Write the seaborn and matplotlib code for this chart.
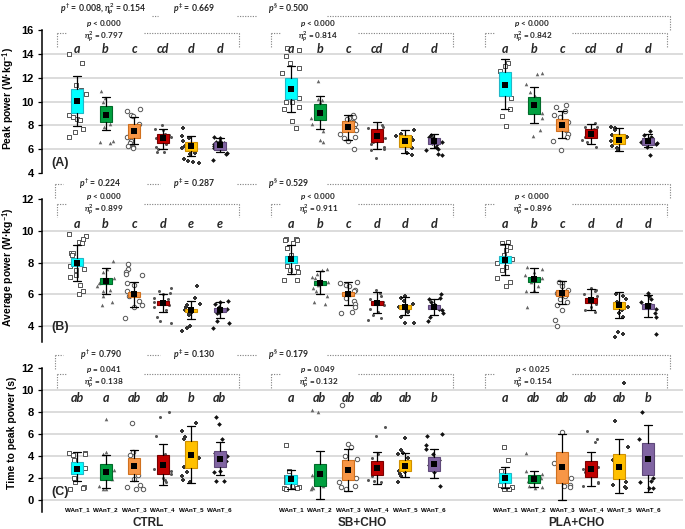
import numpy as np
import pandas as pd
import matplotlib
matplotlib.use("Agg")
import matplotlib.pyplot as plt
import seaborn as sns

# ---------------- data ----------------
groups = ["CTRL", "SB+CHO", "PLA+CHO"]
tests = ["WAnT_1", "WAnT_2", "WAnT_3", "WAnT_4", "WAnT_5", "WAnT_6"]

# Panel A: peak power (order: CTRL T1..T6, SB+CHO T1..T6, PLA+CHO T1..T6)
A_mean = [10.05, 8.9, 7.55, 6.92, 6.25, 6.33, 11.06, 9.05, 7.86, 7.1, 6.7, 6.67, 11.42, 9.67, 8.0, 7.28, 6.78, 6.67]
A_q1 = [9.06, 8.28, 6.97, 6.5, 5.86, 5.95, 10.17, 8.44, 7.4, 6.6, 6.2, 6.4, 10.44, 8.97, 7.5, 6.9, 6.4, 6.36]
A_q3 = [11.06, 9.6, 8.08, 7.25, 6.6, 6.64, 12.0, 9.8, 8.33, 7.67, 7.17, 6.97, 12.47, 10.36, 8.56, 7.67, 7.25, 6.97]
A_wlo = [7.95, 7.58, 6.47, 6.0, 5.45, 5.78, 9.14, 7.7, 6.8, 6.0, 5.7, 6.1, 9.4, 8.17, 6.9, 6.4, 5.86, 6.14]
A_whi = [12.1, 10.36, 8.72, 7.72, 7.1, 6.97, 13.0, 10.5, 8.86, 8.28, 7.6, 7.25, 13.6, 11.2, 9.17, 8.1, 7.8, 7.25]
A_points = [
    [14.0, 13.2, 11.4, 11.0, 10.6, 10.4, 9.5, 8.9, 8.7, 8.5, 8.45, 7.7, 7.4, 7.05],
    [10.9, 10.3, 10.0, 9.5, 9.3, 8.5, 8.1, 7.9, 6.7, 6.6, 6.5],
    [9.4, 9.2, 8.9, 8.8, 8.1, 7.3, 7.0, 6.7, 6.7, 6.5, 6.3, 6.2, 6.1],
    [8.0, 7.7, 7.6, 7.3, 7.2, 7.0, 6.9, 6.6, 6.4, 6.2, 6.0, 5.8, 5.75],
    [7.8, 7.1, 6.9, 6.7, 6.3, 6.1, 5.9, 5.7, 5.6, 5.2, 5.0, 4.9, 4.85],
    [7.0, 6.9, 6.7, 6.6, 6.5, 6.4, 6.3, 6.2, 6.2, 6.1, 5.7, 5.6, 5.1],
    [14.5, 14.3, 13.8, 13.2, 12.8, 12.4, 10.7, 10.3, 10.0, 10.0, 9.5, 9.4, 8.4, 7.8],
    [11.7, 10.2, 10.1, 10.0, 9.6, 8.6, 8.1, 7.5, 6.8, 6.6],
    [8.9, 8.7, 8.6, 8.5, 8.3, 8.1, 7.9, 7.8, 7.6, 7.3, 7.0, 6.9, 6.7, 6.0],
    [8.0, 7.9, 7.8, 7.4, 7.2, 6.9, 6.6, 6.4, 6.2, 6.0, 5.9, 5.3],
    [7.6, 7.3, 7.1, 7.0, 6.8, 6.5, 6.3, 6.1, 5.7, 5.5],
    [7.2, 7.0, 6.9, 6.8, 6.7, 6.6, 6.5, 6.4, 6.2, 6.0, 5.9, 5.6, 5.5],
    [13.2, 13.0, 12.6, 12.0, 11.6, 11.4, 11.0, 10.3, 9.4, 8.8, 7.95],
    [12.4, 12.3, 11.5, 10.8, 10.5, 9.3, 9.0, 8.6, 7.6, 7.1],
    [9.7, 9.5, 9.2, 8.9, 8.7, 8.3, 8.1, 7.8, 7.6, 7.3, 7.0, 6.7, 5.9],
    [8.2, 7.9, 7.9, 7.7, 7.4, 7.3, 7.0, 6.8, 6.6, 6.2],
    [7.9, 7.8, 7.6, 7.2, 7.0, 6.7, 6.5, 6.3, 6.1, 5.9],
    [7.5, 7.2, 7.0, 6.9, 6.8, 6.6, 6.5, 6.4, 6.2, 5.5],
]
A_letters = ["a", "b", "c", "cd", "d", "d"] * 3

# Panel B: average power
B_mean = [8.0, 6.85, 6.0, 5.47, 5.0, 5.03, 8.2, 6.73, 6.0, 5.47, 5.2, 5.2, 8.18, 6.94, 6.1, 5.63, 5.32, 5.28]
B_q1 = [7.8, 6.68, 5.82, 5.32, 4.86, 4.9, 8.0, 6.58, 5.87, 5.32, 5.07, 5.07, 7.95, 6.75, 5.9, 5.47, 5.1, 5.1]
B_q3 = [8.26, 7.0, 6.16, 5.57, 5.1, 5.15, 8.4, 6.87, 6.16, 5.6, 5.36, 5.36, 8.4, 7.1, 6.26, 5.78, 5.53, 5.42]
B_wlo = [6.87, 6.05, 5.21, 4.9, 4.44, 4.52, 7.3, 6.0, 5.36, 4.84, 4.7, 4.73, 7.2, 6.16, 5.42, 5.0, 4.52, 4.6]
B_whi = [9.1, 7.67, 6.75, 6.03, 5.57, 5.53, 9.1, 7.46, 6.75, 6.12, 5.82, 5.7, 9.14, 7.67, 6.83, 6.36, 6.12, 5.95]
B_points = [
    [9.8, 9.7, 9.5, 9.3, 9.2, 8.6, 8.6, 8.5, 8.1, 7.8, 7.6, 7.5, 7.2, 7.1, 6.6, 6.2, 6.0],
    [8.1, 7.6, 7.4, 7.0, 6.7, 6.5, 6.3, 6.2, 5.9, 5.5, 5.3],
    [7.9, 7.6, 7.4, 7.3, 7.2, 6.7, 6.6, 6.2, 5.9, 5.6, 5.3, 5.2, 4.5],
    [6.4, 6.2, 6.1, 6.0, 5.8, 5.7, 5.5, 5.3, 5.2, 5.0, 4.6, 4.3, 4.2],
    [6.5, 5.8, 5.4, 5.3, 5.2, 5.0, 4.9, 4.8, 4.7, 4.0, 3.9, 3.7],
    [5.6, 5.5, 5.4, 5.2, 5.1, 5.0, 4.9, 4.8, 4.3, 4.2, 3.9],
    [9.5, 9.5, 9.4, 9.4, 9.2, 8.9, 8.5, 8.2, 7.8, 7.7, 7.5, 7.4, 6.9, 6.9],
    [7.6, 7.5, 7.3, 7.1, 7.0, 6.8, 6.6, 6.4, 6.2, 5.9, 5.5, 5.4],
    [6.8, 6.7, 6.6, 6.5, 6.3, 6.2, 6.0, 5.8, 5.6, 5.4, 5.2, 4.9, 4.8],
    [6.3, 6.1, 5.9, 5.7, 5.5, 5.3, 5.1, 4.9, 4.7, 4.5, 4.4],
    [5.9, 5.8, 5.6, 5.4, 5.2, 5.0, 4.9, 4.6, 4.2, 4.2],
    [6.0, 5.8, 5.7, 5.5, 5.3, 5.1, 5.0, 4.8, 4.6, 4.3],
    [9.3, 9.2, 9.0, 8.8, 8.5, 8.2, 8.0, 7.7, 7.5, 7.0, 6.8, 6.5],
    [7.7, 7.6, 7.4, 7.2, 7.0, 6.8, 6.5, 6.3, 6.2, 5.2],
    [6.8, 6.7, 6.5, 6.3, 6.1, 5.9, 5.7, 5.5, 5.3, 5.0, 4.4, 4.0],
    [6.4, 6.3, 6.2, 6.0, 5.9, 5.6, 5.4, 5.2, 5.0, 4.9],
    [6.0, 5.9, 5.7, 5.5, 5.2, 5.0, 4.8, 4.6, 3.6, 3.5, 3.3],
    [6.1, 5.9, 5.7, 5.5, 5.3, 5.1, 4.8, 4.6, 3.5],
]
B_letters = ["a", "b", "c", "d", "e", "e"] + ["a", "b", "c", "d", "d", "d"] * 2

# Panel C: time to peak power
C_mean = [2.85, 2.55, 3.12, 3.2, 4.1, 3.75, 1.88, 2.33, 2.73, 2.9, 3.09, 3.3, 2.0, 1.88, 2.97, 2.79, 3.03, 3.7]
C_q1 = [2.36, 1.85, 2.36, 2.36, 2.9, 2.97, 1.45, 1.24, 1.82, 2.24, 2.6, 2.67, 1.58, 1.52, 1.58, 2.09, 1.94, 2.3]
C_q3 = [3.42, 3.27, 3.82, 4.12, 5.33, 4.48, 2.3, 3.3, 3.64, 3.58, 3.64, 3.94, 2.48, 2.24, 4.36, 3.52, 4.2, 5.2]
C_wlo = [1.7, 1.09, 1.7, 1.39, 1.55, 2.3, 1.03, 0.12, 0.79, 1.45, 2.06, 2.0, 1.09, 1.15, 0.0, 1.27, 0.67, 0.73]
C_whi = [4.36, 4.06, 4.58, 5.12, 6.73, 5.3, 2.76, 4.48, 4.64, 4.36, 4.24, 4.67, 2.97, 2.67, 6.0, 4.36, 5.5, 6.82]
C_points = [
    [4.3, 4.3, 4.2, 4.1, 3.6, 3.3, 2.9, 2.6, 2.0, 1.6, 1.2, 1.1, 1.0],
    [7.4, 4.4, 4.2, 3.2, 2.7, 2.4, 1.9, 1.3, 1.0, 1.0],
    [7.0, 4.4, 4.1, 3.4, 2.3, 1.9, 1.4, 1.2, 1.0, 1.0],
    [8.0, 7.5, 5.8, 4.2, 3.8, 2.8, 2.6, 2.4, 2.0, 1.8, 1.6],
    [7.0, 6.3, 5.7, 5.5, 4.2, 4.0, 3.8, 3.5, 3.0, 2.5, 2.2, 1.8, 1.6],
    [7.5, 6.9, 5.5, 4.3, 4.0, 3.6, 3.5, 3.2, 2.6, 2.5, 1.7, 1.7],
    [5.0, 2.6, 2.1, 1.9, 1.6, 1.3, 1.2, 1.1, 1.1, 1.0],
    [8.2, 8.0, 2.3, 2.0, 1.7, 1.5, 1.3, 1.2, 1.1, 1.0],
    [8.6, 5.1, 4.8, 4.0, 3.7, 3.0, 2.7, 2.0, 1.6, 1.3, 1.2, 1.0],
    [6.6, 5.8, 4.2, 3.8, 3.4, 2.9, 2.2, 1.8, 1.7, 1.6],
    [5.6, 4.5, 4.3, 4.2, 3.8, 3.3, 2.6, 2.5, 2.4, 2.2, 1.6],
    [6.0, 5.8, 5.0, 4.6, 4.2, 3.6, 3.2, 2.8, 2.5, 1.3],
    [4.8, 3.6, 2.6, 2.6, 2.0, 1.4, 1.2, 1.0, 1.0, 1.0],
    [4.3, 2.6, 2.4, 2.0, 1.7, 1.3, 1.2, 1.1],
    [6.2, 3.6, 3.4, 3.0, 2.4, 2.0, 1.4, 1.3, 1.2],
    [6.3, 5.5, 5.3, 3.4, 3.0, 2.8, 2.5, 1.6, 1.5, 1.3],
    [10.6, 7.2, 4.8, 4.0, 3.6, 2.8, 2.0, 1.6, 1.4, 1.2, 1.1],
    [8.0, 5.5, 4.6, 3.6, 2.8, 2.0, 1.7, 1.6, 1.1, 1.1],
]
C_letters = ["ab", "a", "ab", "ab", "b", "ab"] + ["a", "ab", "ab", "ab", "ab", "b"] * 2

# statistics text
A_outer = [r"$p^{†}$ = 0.008, $\eta^{2}_{p}$ = 0.154", r"$p^{‡}$ = 0.669", r"$p^{§}$ = 0.500"]
A_inner_p = [r"$p$ < 0.000", r"$p$ < 0.000", r"$p$ < 0.000"]
A_inner_eta = ["0.797", "0.814", "0.842"]
B_outer = [r"$p^{†}$ = 0.224", r"$p^{‡}$ = 0.287", r"$p^{§}$ = 0.529"]
B_inner_p = [r"$p$ < 0.000", r"$p$ < 0.000", r"$p$ < 0.000"]
B_inner_eta = ["0.899", "0.911", "0.896"]
C_outer = [r"$p^{†}$ = 0.790", r"$p^{‡}$ = 0.130", r"$p^{§}$ = 0.179"]
C_inner_p = [r"$p$ = 0.041", r"$p$ = 0.049", r"$p$ < 0.025"]
C_inner_eta = ["0.138", "0.132", "0.154"]

# ---------------- style ----------------
sns.set_theme(style="white")
plt.rcParams["font.family"] = ["Liberation Sans", "DejaVu Sans"]
plt.rcParams["mathtext.fontset"] = "custom"
plt.rcParams["mathtext.it"] = "Lato:bold:italic"
plt.rcParams["mathtext.rm"] = "Lato:bold"
plt.rcParams["mathtext.bf"] = "Lato:bold"
np.random.seed(7)

BOX_FACE = ["#00FFFF", "#00A040", "#F79646", "#C00000", "#FFC000", "#8064A2"]
BOX_EDGE = ["#20B8C8", "#006B2A", "#D0701E", "#7A0000", "#D09000", "#5F497A"]
MARKERS = [
    dict(marker="s", color="white", edgecolor="#555555", linewidth=0.7, size=3.0),
    dict(marker="^", color="#666666", edgecolor="#666666", linewidth=0.0, size=2.6),
    dict(marker="o", color="white", edgecolor="#555555", linewidth=0.7, size=3.2),
    dict(marker="o", color="#555555", edgecolor="#555555", linewidth=0.0, size=2.2),
    dict(marker="P", color="#333333", edgecolor="#333333", linewidth=0.0, size=3.0),
    dict(marker="D", color="#111111", edgecolor="#111111", linewidth=0.0, size=2.4),
]
GRID_C = "#d9d9d9"
DOT_C = "#7f7f7f"
DOT_LS = (0, (1, 1.3))
TXT_FAM = ["Lato", "DejaVu Sans"]
GROUP_GAP = 7.5
JITTER = 0.32 / GROUP_GAP   # stripplot scales jitter by the spacing of one test's positions

xpos = [g * GROUP_GAP + t for g in range(3) for t in range(6)]
group_center = [g * GROUP_GAP + 2.5 for g in range(3)]

fig = plt.figure(figsize=(6.85, 5.29), dpi=100)
W, H = 685.0, 529.0
L, R = 42 / W, 683 / W
axA = fig.add_axes([L, 1 - 173 / H, R - L, (173 - 30) / H])
axB = fig.add_axes([L, 1 - 342 / H, R - L, (342 - 199) / H])
axC = fig.add_axes([L, 1 - 512 / H, R - L, (512 - 368) / H])


def dotted(ax, xs, ys):
    ax.plot(xs, ys, color=DOT_C, lw=0.8, ls=DOT_LS, clip_on=False, zorder=2)


def draw_panel(ax, mean, q1, q3, wlo, whi, points, letters, ylim, yticks, grid,
               ylabel, ylabel_y, plabel, plabel_y, outer, inner_p, inner_eta, lay,
               outer_segs, outer_left):
    # grid
    for gy in grid:
        ax.axhline(gy, color=GRID_C, lw=1.3, zorder=0)
    # individual points
    rows = []
    for i, vals in enumerate(points):
        for v in vals:
            rows.append({"x": xpos[i], "value": v, "test": i % 6})
    df = pd.DataFrame(rows)
    for t in range(6):
        sub = df[df["test"] == t]
        sns.stripplot(data=sub, x="x", y="value", native_scale=True, orient="x",
                      jitter=JITTER, ax=ax, zorder=1, **MARKERS[t])
    # boxes
    stats = [dict(med=m, q1=a, q3=b, whislo=c, whishi=d, mean=m, fliers=[])
             for m, a, b, c, d in zip(mean, q1, q3, wlo, whi)]
    bp = ax.bxp(stats, positions=xpos, widths=0.42, patch_artist=True,
                showmeans=False, showfliers=False, manage_ticks=False,
                medianprops=dict(linewidth=0),
                whiskerprops=dict(color="black", lw=0.9),
                capprops=dict(color="black", lw=0.9), capwidths=0.28, zorder=3)
    for i, patch in enumerate(bp["boxes"]):
        patch.set_facecolor(BOX_FACE[i % 6])
        patch.set_edgecolor(BOX_EDGE[i % 6])
        patch.set_linewidth(0.8)
    # means
    sns.scatterplot(x=xpos, y=mean, marker="s", color="black", s=24, linewidth=0,
                    ax=ax, zorder=5, legend=False)
    # letters
    for i, lt in enumerate(letters):
        ax.text(xpos[i], lay["letter"], lt, ha="center", va="center", fontsize=9,
                fontweight="bold", fontstyle="italic", family=TXT_FAM, clip_on=False)
    # outer bracket
    for x0, x1 in outer_segs:
        dotted(ax, [x0, x1], [lay["outer"], lay["outer"]])
    if outer_left:
        dotted(ax, [-0.77, -0.77], [lay["outer"], lay["drop"]])
    dotted(ax, [20.77, 20.77], [lay["outer"], lay["drop"]])
    for tx, xx in zip(outer, [lay["o1x"], 4.1, 7.4]):
        ax.text(xx, lay["otext"], tx, ha="center", va="center", fontsize=6.2,
                fontweight="bold", family=TXT_FAM, clip_on=False)
    # inner brackets
    for g in range(3):
        x0 = g * GROUP_GAP
        dotted(ax, [x0 - 0.7, x0 - 0.35], [lay["itop"], lay["itop"]])
        dotted(ax, [x0 + 2.35, x0 + 5.67], [lay["itop"], lay["itop"]])
        dotted(ax, [x0 - 0.7, x0 - 0.7], [lay["itop"], lay["ibot"]])
        dotted(ax, [x0 + 5.67, x0 + 5.67], [lay["itop"], lay["ibot"]])
        ax.text(x0 + 0.95, lay["ptext"], inner_p[g], ha="center", va="center",
                fontsize=5.9, fontweight="bold", family=TXT_FAM, clip_on=False)
        ax.text(x0 + 0.95, lay["etext"], r"$\eta^{2}_{p}$ = " + inner_eta[g],
                ha="center", va="center", fontsize=5.9, fontweight="bold",
                family=TXT_FAM, clip_on=False)
    # panel label
    ax.text(-0.6, plabel_y, plabel, ha="center", va="center", fontsize=9,
            fontweight="bold", zorder=6)
    # axes
    ax.set_xlim(-1.226, 21.23)
    ax.set_ylim(*ylim)
    ax.set_yticks(yticks)
    ax.set_yticklabels([str(v) for v in yticks], fontweight="bold")
    ax.tick_params(axis="y", direction="out", length=3, width=0.9, colors="black",
                   labelsize=8, pad=3, left=True)
    ax.set_ylabel(ylabel, fontsize=7.5, fontweight="bold", color="black")
    ax.yaxis.set_label_coords(-0.039, ylabel_y)
    ax.set_xlabel("")
    for s in ["top", "right", "bottom"]:
        ax.spines[s].set_visible(False)
    ax.spines["left"].set_color("black")
    ax.spines["left"].set_linewidth(1.1)
    ax.set_facecolor("none")


draw_panel(axA, A_mean, A_q1, A_q3, A_wlo, A_whi, A_points, A_letters,
           (4, 16), [4, 6, 8, 10, 12, 14, 16], [6, 8, 10, 12, 14],
           r"Peak power (W·kg$^{\mathbf{-1}}$)", 0.52, "(A)", 4.84,
           A_outer, A_inner_p, A_inner_eta,
           dict(outer=17.17, drop=16.0, itop=15.75, ibot=14.57, letter=14.4,
                otext=17.75, ptext=16.56, etext=15.45, o1x=0.92),
           [[2.63, 2.85], [5.6, 6.3], [8.76, 20.77]], False)
draw_panel(axB, B_mean, B_q1, B_q3, B_wlo, B_whi, B_points, B_letters,
           (3, 12), [4, 6, 8, 10, 12], [4, 6, 8, 10],
           r"Average power (W·kg$^{\mathbf{-1}}$)", 0.52, "(B)", 3.95,
           B_outer, B_inner_p, B_inner_eta,
           dict(outer=12.94, drop=12.06, itop=11.69, ibot=10.87, letter=10.43,
                otext=12.97, ptext=12.14, etext=11.33, o1x=0.8),
           [[-0.77, -0.49], [2.45, 2.9], [5.6, 6.3], [8.76, 20.77]], True)
draw_panel(axC, C_mean, C_q1, C_q3, C_wlo, C_whi, C_points, C_letters,
           (-1.1, 12), [0, 2, 4, 6, 8, 10, 12], [0, 2, 4, 6, 8, 10],
           "Time to peak power (s)", 0.55, "(C)", 0.73,
           C_outer, C_inner_p, C_inner_eta,
           dict(outer=13.18, drop=11.82, itop=11.45, ibot=10.18, letter=9.27,
                otext=13.22, ptext=11.9, etext=10.66, o1x=0.85),
           [[-0.77, -0.49], [2.45, 2.9], [5.6, 6.3], [8.76, 20.77]], True)

axA.set_xticks([])
axB.set_xticks([])
axC.set_xticks(xpos)
axC.set_xticklabels(tests * 3, fontsize=4.5, fontweight="bold")
axC.tick_params(axis="x", length=0, pad=-3.2, colors="black")
for g, name in enumerate(groups):
    axC.text(group_center[g], -0.075, name, transform=axC.get_xaxis_transform(),
             ha="center", va="center", fontsize=8.5, fontweight="bold")

fig.savefig("out.png", dpi=100)
